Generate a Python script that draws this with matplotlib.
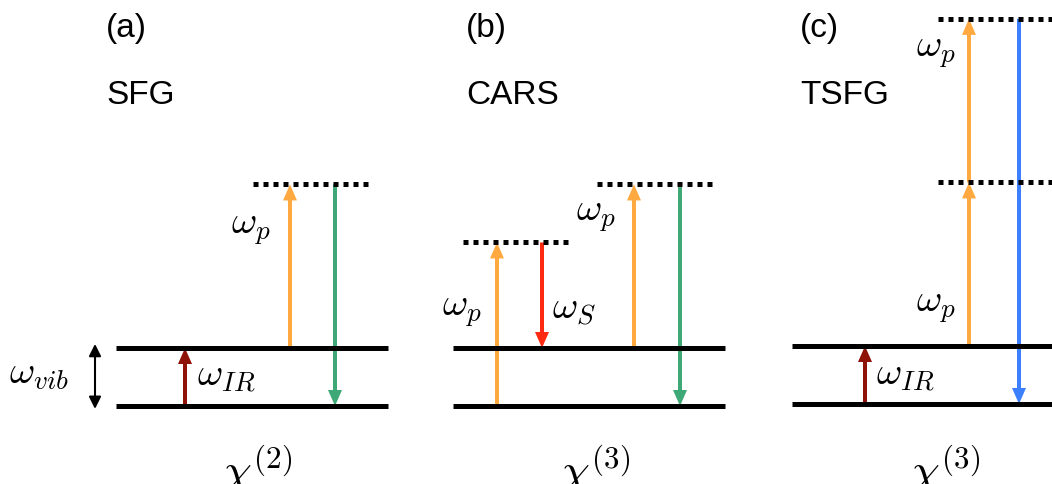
import matplotlib.pyplot as plt

plt.rcParams['mathtext.fontset'] = 'cm'
plt.rcParams['font.family'] = ['Liberation Sans', 'DejaVu Sans']

# energies in units of the vibrational quantum
e_vib = 1.0
e_pump = 2.82
e_stokes = e_pump - e_vib

panels = ['(a)', '(b)', '(c)']
names = ['SFG', 'CARS', 'TSFG']
orders = [r'$\chi^{(2)}$', r'$\chi^{(3)}$', r'$\chi^{(3)}$']

orange = '#FFA940'
green = '#3FA877'
red = '#FF2A12'
darkred = '#8E1208'
blue = '#3D80FF'

px = 58.0  # pixels per energy unit
fs = 28


def level(ax, x0, x1, e, dotted=False):
    ls = (0, (1, 1)) if dotted else '-'
    ax.plot([x0, x1], [e, e], color='black', lw=3.6, ls=ls,
            solid_capstyle='butt', dash_capstyle='butt')


def arrow(ax, x, e0, e1, color):
    ax.arrow(x, e0, 0, e1 - e0, width=4, head_width=14, head_length=16 / px,
             length_includes_head=True, color=color, lw=0)


fig = plt.figure(figsize=(10.52, 4.84), dpi=100)
ax = fig.add_axes([0, 0, 1, 1])
ax.set_xlim(0, 1052)
ax.set_ylim(-78 / px, 406 / px)
ax.axis('off')

# (a) SFG
level(ax, 116, 388, 0)
level(ax, 116, 388, e_vib)
level(ax, 253, 372, e_vib + e_pump, dotted=True)
arrow(ax, 185, 0, e_vib, darkred)
arrow(ax, 290, e_vib, e_vib + e_pump, orange)
arrow(ax, 335, e_vib + e_pump, 0, green)
ax.annotate('', xy=(95, -0.05), xytext=(95, e_vib + 0.07),
            arrowprops=dict(arrowstyle='<|-|>', color='black', lw=1.5,
                            mutation_scale=18, shrinkA=0, shrinkB=0))
ax.text(9, 0.55, r'$\omega_{vib}$', fontsize=fs, va='center')
ax.text(197, 0.5, r'$\omega_{IR}$', fontsize=fs, va='center')
ax.text(231, 3.05, r'$\omega_{p}$', fontsize=fs, va='center')

# (b) CARS
level(ax, 453, 725, 0)
level(ax, 453, 725, e_vib)
level(ax, 463, 572, e_pump, dotted=True)
level(ax, 597, 715, e_vib + e_pump, dotted=True)
arrow(ax, 497, 0, e_pump, orange)
arrow(ax, 542, e_pump, e_pump - e_stokes, red)
arrow(ax, 634, e_vib, e_vib + e_pump, orange)
arrow(ax, 680, e_vib + e_pump, 0, green)
ax.text(442, 1.64, r'$\omega_{p}$', fontsize=fs, va='center')
ax.text(552, 1.66, r'$\omega_{S}$', fontsize=fs, va='center')
ax.text(576, 3.28, r'$\omega_{p}$', fontsize=fs, va='center')

# (c) TSFG
dy = 2 / px
level(ax, 792, 1052, dy)
level(ax, 792, 1052, e_vib + dy)
level(ax, 938, 1052, e_vib + e_pump + dy, dotted=True)
level(ax, 938, 1052, e_vib + 2 * e_pump + dy, dotted=True)
arrow(ax, 865, dy, e_vib + dy, darkred)
arrow(ax, 969, e_vib + dy, e_vib + e_pump + dy, orange)
arrow(ax, 969, e_vib + e_pump + dy, e_vib + 2 * e_pump + dy, orange)
arrow(ax, 1019, e_vib + 2 * e_pump + dy, dy, blue)
ax.text(876, 0.52, r'$\omega_{IR}$', fontsize=fs, va='center')
ax.text(916, 1.71, r'$\omega_{p}$', fontsize=fs, va='center')
ax.text(916, 6.1, r'$\omega_{p}$', fontsize=fs, va='center')

for x0, xc, p, n, o in zip([106, 466, 800], [258, 596, 946], panels, names, orders):
    ax.text(x0, (406 - 28) / px, p, fontsize=24, va='center')
    ax.text(x0, (406 - 96) / px, n, fontsize=24, va='center')
    ax.text(xc, (406 - 443) / px, o, fontsize=32, ha='center', va='top')

fig.savefig('out.png', dpi=100)
